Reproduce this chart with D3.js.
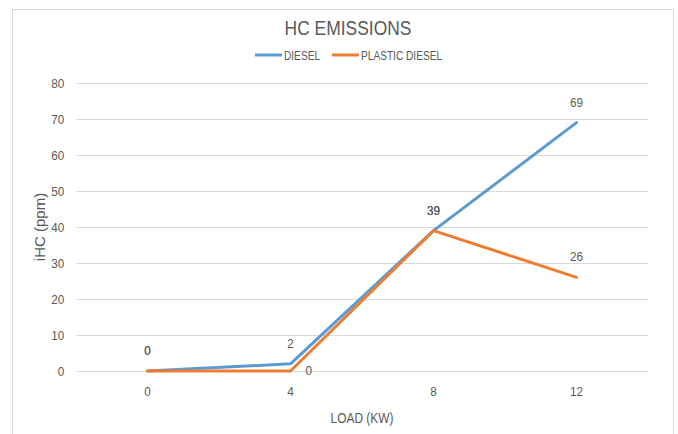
<!DOCTYPE html>
<html>
<head>
<meta charset="utf-8">
<script src="https://cdn.jsdelivr.net/npm/d3@7"></script>
<style>
  html, body { margin: 0; padding: 0; background: #fff; }
  svg text { font-family: "Liberation Sans", Arial, sans-serif; fill: #595959; }
</style>
</head>
<body>
<svg id="chart" width="678" height="434"></svg>
<script>
// Engine load steps (kW) and hydrocarbon emissions (ppm)
const loads = ["0", "4", "8", "12"];
const diesel = [0, 2, 39, 69];
const plasticDiesel = [0, 0, 39, 26];
const yTicks = [0, 10, 20, 30, 40, 50, 60, 70, 80];
const seriesNames = ["DIESEL", "PLASTIC DIESEL"];
const seriesColors = ["#5B9BD5", "#ED7D31"];

const svg = d3.select("#chart");
const plot = { left: 76, right: 648, top: 83, bottom: 371 };

// text squeezed horizontally to get a condensed face
function narrowText(parent, x, y, str, size, anchor, k, rotate) {
  return parent.append("text")
    .attr("transform", `translate(${x},${y})${rotate ? ` rotate(${rotate})` : ""} scale(${k},1)`)
    .attr("text-anchor", anchor).attr("font-size", size).text(str);
}

// outer chart frame
svg.append("rect")
  .attr("x", 12.5).attr("y", 9.5)
  .attr("width", 661).attr("height", 430)
  .attr("fill", "#fff").attr("stroke", "#d9d9d9").attr("stroke-width", 1);

const x = d3.scaleBand().domain(loads).range([plot.left, plot.right]).padding(0);
const cx = d => x(d) + x.bandwidth() / 2;
const y = d3.scaleLinear().domain([0, 80]).range([plot.bottom, plot.top]);

// horizontal gridlines + y tick labels
const yAxis = d3.axisLeft(y).tickValues(yTicks).tickSize(-(plot.right - plot.left)).tickPadding(12);
const gy = svg.append("g").attr("transform", `translate(${plot.left},0)`).call(yAxis);
gy.select(".domain").remove();
gy.selectAll(".tick line").attr("stroke", "#d9d9d9").attr("stroke-width", 1);
gy.selectAll(".tick text").attr("font-size", 13).attr("dy", "0.35em")
  .attr("transform", "scale(0.9,1)").attr("x", -13);

// x tick labels
const xAxis = d3.axisBottom(x).tickSize(0).tickPadding(16);
const gx = svg.append("g").attr("transform", `translate(0,${plot.bottom})`).call(xAxis);
gx.select(".domain").remove();
gx.selectAll(".tick text").attr("font-size", 13).attr("transform", "scale(0.9,1)");

// titles
narrowText(svg, 348, 35, "HC EMISSIONS", 21, "middle", 0.83);
narrowText(svg, 362, 423, "LOAD (KW)", 14, "middle", 0.85);
narrowText(svg, 45, 227, "iHC (ppm)", 15, "middle", 1, -90);

// legend
const legendItems = [
  { name: seriesNames[0], color: seriesColors[0], x: 255 },
  { name: seriesNames[1], color: seriesColors[1], x: 332 }
];
legendItems.forEach(it => {
  svg.append("line").attr("x1", it.x).attr("x2", it.x + 27).attr("y1", 55).attr("y2", 55)
    .attr("stroke", it.color).attr("stroke-width", 3);
  narrowText(svg, it.x + 29, 60, it.name, 13, "start", 0.78);
});

// series lines
const line = d3.line().x((d, i) => cx(loads[i])).y(d => y(d));
[diesel, plasticDiesel].forEach((vals, s) => {
  svg.append("path").datum(vals).attr("d", line)
    .attr("fill", "none").attr("stroke", seriesColors[s]).attr("stroke-width", 3)
    .attr("stroke-linejoin", "round").attr("stroke-linecap", "round");
});

// value labels
const labelFont = 13;
diesel.forEach((v, i) => {
  narrowText(svg, cx(loads[i]), y(v) - 16, v, labelFont, "middle", 0.9);
});
plasticDiesel.forEach((v, i) => {
  if (i === 1) narrowText(svg, cx(loads[i]) + 15, y(v) + 4, v, labelFont, "start", 0.9);
  else narrowText(svg, cx(loads[i]), y(v) - 16, v, labelFont, "middle", 0.9);
});
</script>
</body>
</html>
